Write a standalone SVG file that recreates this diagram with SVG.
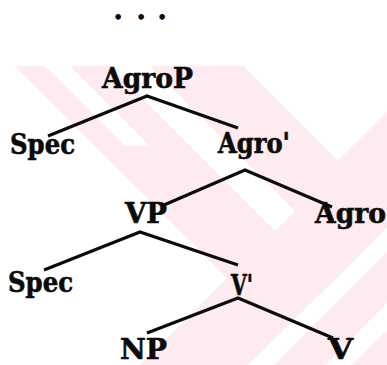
<svg xmlns="http://www.w3.org/2000/svg" width="387" height="365" viewBox="0 0 387 365">
  <style>
    .lbl { font-family: "DejaVu Serif", "Liberation Serif", serif; font-weight: bold; font-size: 27px; fill: #0b0b0b; stroke: #0b0b0b; stroke-width: 0.6; }
    .dots { font-family: "DejaVu Sans", "Liberation Sans", sans-serif; font-weight: bold; font-size: 16px; fill: #0b0b0b; text-anchor: middle; }
    .edge { fill: none; stroke: #0b0b0b; stroke-width: 3.2; stroke-linejoin: miter; stroke-linecap: butt; }
    .wm { fill: #fdebef; }
    .wm-gap { fill: #ffffff; }
  </style>

  <rect width="387" height="365" fill="#ffffff"/>

  <!-- faint diagonal background mark -->
  <g id="backdrop">
    <polygon class="wm" points="15,66 244,66 338,160 387,111 387,365 140,365 227,278"/>
    <polygon class="wm-gap" points="45,66 70,66 150,146 125,146"/>
    <polygon class="wm-gap" points="110,66 150,66 295,211 275,231"/>
    <polygon class="wm-gap" points="244,66 387,66 387,111 338,160"/>
    <polygon class="wm-gap" points="248,365 274,365 387,252 387,228"/>
    <polygon class="wm-gap" points="325,365 352,365 387,330 387,303"/>
  </g>

  <!-- branches: each polyline joins a parent to its two daughters -->
  <g id="connectors">
    <polyline id="e-agrop" class="edge" points="48,136 147,96 238,128"/>
    <polyline id="e-agro-bar" class="edge" points="164,205 245,170 332,207"/>
    <polyline id="e-vp" class="edge" points="44,270 140,232 238,265"/>
    <polyline id="e-v-bar" class="edge" points="147,333 238,298 333,338"/>
  </g>

  <g id="ellipsis">
    <text class="dots" x="118 141 162" y="23">•••</text>
  </g>
  <g id="agrop"><text class="lbl" x="102" y="88" textLength="91" lengthAdjust="spacingAndGlyphs">AgroP</text></g>
  <g id="spec-1"><text class="lbl" x="10" y="154" textLength="65" lengthAdjust="spacingAndGlyphs">Spec</text></g>
  <g id="agro-bar"><text class="lbl" x="218" y="153" textLength="72" lengthAdjust="spacingAndGlyphs">Agro'</text></g>
  <g id="vp"><text class="lbl" x="125" y="223" textLength="42" lengthAdjust="spacingAndGlyphs">VP</text></g>
  <g id="agro"><text class="lbl" x="315" y="223" textLength="71" lengthAdjust="spacingAndGlyphs">Agro</text></g>
  <g id="spec-2"><text class="lbl" x="8" y="292" textLength="65" lengthAdjust="spacingAndGlyphs">Spec</text></g>
  <g id="v-bar"><text class="lbl" x="231" y="295" textLength="22" lengthAdjust="spacingAndGlyphs">V'</text></g>
  <g id="np"><text class="lbl" x="120" y="358.5" textLength="47" lengthAdjust="spacingAndGlyphs">NP</text></g>
  <g id="v"><text class="lbl" x="328" y="358.5" textLength="25" lengthAdjust="spacingAndGlyphs">V</text></g>
</svg>
